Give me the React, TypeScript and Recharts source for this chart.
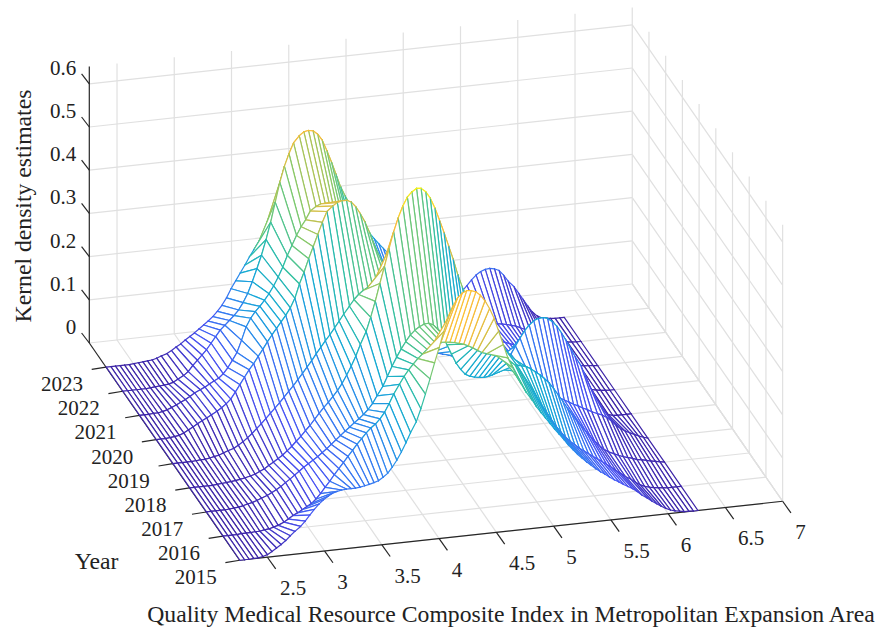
import { Line, LineChart, LabelList, XAxis, YAxis } from 'recharts'

const W = 877
const H = 627

// density grid, one row per year
const gridX = [
  2.26, 2.30, 2.34, 2.38, 2.42, 2.46, 2.50, 2.54, 2.58, 2.62,
  2.66, 2.70, 2.74, 2.79, 2.83, 2.87, 2.91, 2.95, 2.99, 3.03,
  3.07, 3.11, 3.15, 3.19, 3.23, 3.27, 3.31, 3.35, 3.39, 3.43,
  3.47, 3.51, 3.55, 3.59, 3.63, 3.67, 3.71, 3.75, 3.80, 3.84,
  3.88, 3.92, 3.96, 4.00, 4.04, 4.08, 4.12, 4.16, 4.20, 4.24,
  4.28, 4.32, 4.36, 4.40, 4.44, 4.48, 4.52, 4.56, 4.60, 4.64,
  4.68, 4.72, 4.76, 4.81, 4.85, 4.89, 4.93, 4.97, 5.01, 5.05,
  5.09, 5.13, 5.17, 5.21, 5.25, 5.29, 5.33, 5.37, 5.41, 5.45,
  5.49, 5.53, 5.57, 5.61, 5.65, 5.69, 5.73, 5.77, 5.82, 5.86,
  5.90, 5.94, 5.98, 6.02, 6.06, 6.10, 6.14, 6.18, 6.22, 6.26,
]

const d2015 = [
  0, 0, 0, 0.001, 0.001, 0.003, 0.006, 0.012, 0.019, 0.026,
  0.034, 0.044, 0.053, 0.063, 0.074, 0.087, 0.099, 0.11, 0.119, 0.126,
  0.132, 0.135, 0.137, 0.138, 0.138, 0.138, 0.139, 0.141, 0.143, 0.146,
  0.149, 0.156, 0.164, 0.177, 0.192, 0.21, 0.23, 0.252, 0.276, 0.305,
  0.338, 0.372, 0.408, 0.442, 0.478, 0.509, 0.534, 0.552, 0.562, 0.567,
  0.566, 0.562, 0.553, 0.539, 0.52, 0.496, 0.465, 0.433, 0.401, 0.378,
  0.356, 0.336, 0.317, 0.298, 0.281, 0.266, 0.252, 0.238, 0.224, 0.211,
  0.198, 0.184, 0.172, 0.16, 0.15, 0.14, 0.131, 0.122, 0.114, 0.107,
  0.099, 0.092, 0.086, 0.079, 0.073, 0.067, 0.059, 0.05, 0.041, 0.033,
  0.026, 0.019, 0.013, 0.008, 0.005, 0.003, 0.001, 0.001, 0, 0,
]
const d2016 = [
  0, 0, 0, 0, 0.001, 0.001, 0.001, 0.002, 0.002, 0.004,
  0.005, 0.008, 0.011, 0.017, 0.023, 0.03, 0.035, 0.041, 0.047, 0.053,
  0.062, 0.074, 0.087, 0.1, 0.114, 0.127, 0.14, 0.153, 0.166, 0.179,
  0.191, 0.203, 0.213, 0.221, 0.232, 0.246, 0.265, 0.286, 0.307, 0.324,
  0.338, 0.35, 0.362, 0.371, 0.381, 0.387, 0.392, 0.394, 0.393, 0.392,
  0.39, 0.387, 0.384, 0.379, 0.373, 0.366, 0.36, 0.356, 0.353, 0.35,
  0.347, 0.342, 0.334, 0.322, 0.306, 0.29, 0.274, 0.257, 0.237, 0.219,
  0.202, 0.185, 0.169, 0.155, 0.143, 0.132, 0.123, 0.114, 0.106, 0.099,
  0.091, 0.084, 0.077, 0.069, 0.061, 0.053, 0.045, 0.037, 0.029, 0.021,
  0.014, 0.009, 0.006, 0.004, 0.002, 0.001, 0, 0, 0, 0,
]
const d2017 = [
  0, 0, 0, 0, 0, 0.001, 0.002, 0.003, 0.005, 0.008,
  0.01, 0.014, 0.018, 0.023, 0.028, 0.034, 0.04, 0.048, 0.055, 0.063,
  0.071, 0.079, 0.086, 0.093, 0.1, 0.108, 0.116, 0.125, 0.134, 0.143,
  0.152, 0.16, 0.169, 0.177, 0.186, 0.196, 0.209, 0.226, 0.246, 0.268,
  0.29, 0.31, 0.328, 0.344, 0.358, 0.368, 0.375, 0.38, 0.381, 0.376,
  0.365, 0.348, 0.327, 0.304, 0.282, 0.266, 0.254, 0.248, 0.245, 0.243,
  0.242, 0.243, 0.246, 0.25, 0.255, 0.259, 0.261, 0.262, 0.259, 0.256,
  0.25, 0.242, 0.234, 0.224, 0.213, 0.199, 0.183, 0.167, 0.15, 0.134,
  0.119, 0.105, 0.092, 0.079, 0.066, 0.055, 0.045, 0.038, 0.032, 0.027,
  0.023, 0.02, 0.017, 0.013, 0.011, 0.009, 0.006, 0.004, 0.002, 0,
]
const d2018 = [
  0, 0, 0, 0, 0, 0, 0.001, 0.002, 0.003, 0.004,
  0.005, 0.007, 0.009, 0.012, 0.015, 0.02, 0.025, 0.032, 0.038, 0.045,
  0.052, 0.061, 0.07, 0.081, 0.091, 0.103, 0.114, 0.127, 0.14, 0.152,
  0.163, 0.175, 0.188, 0.203, 0.221, 0.241, 0.263, 0.289, 0.317, 0.349,
  0.385, 0.425, 0.463, 0.503, 0.541, 0.572, 0.598, 0.618, 0.629, 0.636,
  0.635, 0.626, 0.61, 0.586, 0.557, 0.527, 0.495, 0.463, 0.426, 0.396,
  0.372, 0.351, 0.333, 0.319, 0.305, 0.29, 0.274, 0.258, 0.241, 0.225,
  0.212, 0.199, 0.187, 0.175, 0.163, 0.154, 0.146, 0.138, 0.13, 0.122,
  0.115, 0.109, 0.103, 0.097, 0.092, 0.086, 0.081, 0.075, 0.069, 0.065,
  0.058, 0.049, 0.038, 0.029, 0.022, 0.017, 0.012, 0.007, 0.003, 0,
]
const d2019 = [
  0, 0, 0, 0, 0, 0.001, 0.002, 0.002, 0.004, 0.006,
  0.008, 0.012, 0.016, 0.02, 0.026, 0.033, 0.041, 0.05, 0.06, 0.07,
  0.081, 0.092, 0.103, 0.114, 0.126, 0.138, 0.15, 0.163, 0.176, 0.19,
  0.203, 0.218, 0.232, 0.246, 0.259, 0.273, 0.288, 0.303, 0.32, 0.334,
  0.345, 0.353, 0.359, 0.363, 0.366, 0.369, 0.37, 0.368, 0.364, 0.356,
  0.347, 0.337, 0.325, 0.311, 0.297, 0.282, 0.265, 0.249, 0.233, 0.218,
  0.204, 0.19, 0.176, 0.164, 0.153, 0.144, 0.136, 0.131, 0.128, 0.129,
  0.133, 0.141, 0.152, 0.168, 0.186, 0.203, 0.219, 0.231, 0.24, 0.244,
  0.245, 0.242, 0.234, 0.222, 0.206, 0.187, 0.167, 0.147, 0.125, 0.1,
  0.074, 0.05, 0.029, 0.011, 0.004, 0.001, 0, 0, 0, 0,
]
const d2020 = [
  0, 0, 0, 0.001, 0.002, 0.004, 0.008, 0.014, 0.02, 0.026,
  0.032, 0.037, 0.043, 0.05, 0.057, 0.065, 0.075, 0.09, 0.106, 0.122,
  0.138, 0.151, 0.167, 0.182, 0.198, 0.213, 0.227, 0.241, 0.255, 0.271,
  0.292, 0.324, 0.35, 0.38, 0.407, 0.434, 0.461, 0.485, 0.496, 0.503,
  0.506, 0.506, 0.501, 0.489, 0.472, 0.452, 0.427, 0.397, 0.363, 0.33,
  0.3, 0.271, 0.245, 0.221, 0.201, 0.184, 0.168, 0.154, 0.144, 0.138,
  0.133, 0.129, 0.126, 0.123, 0.121, 0.119, 0.117, 0.116, 0.114, 0.113,
  0.111, 0.109, 0.108, 0.105, 0.103, 0.1, 0.096, 0.093, 0.09, 0.086,
  0.082, 0.077, 0.072, 0.066, 0.061, 0.055, 0.047, 0.041, 0.034, 0.029,
  0.023, 0.018, 0.013, 0.009, 0.006, 0.004, 0.002, 0.001, 0, 0,
]
const d2021 = [
  0, 0, 0, 0.001, 0.001, 0.003, 0.006, 0.01, 0.015, 0.02,
  0.025, 0.031, 0.038, 0.044, 0.049, 0.055, 0.061, 0.066, 0.075, 0.088,
  0.104, 0.121, 0.148, 0.178, 0.197, 0.211, 0.222, 0.235, 0.249, 0.266,
  0.285, 0.307, 0.333, 0.355, 0.377, 0.396, 0.411, 0.43, 0.439, 0.444,
  0.444, 0.437, 0.425, 0.411, 0.394, 0.375, 0.355, 0.333, 0.309, 0.284,
  0.261, 0.24, 0.22, 0.202, 0.186, 0.171, 0.159, 0.148, 0.139, 0.133,
  0.127, 0.122, 0.118, 0.114, 0.111, 0.108, 0.106, 0.104, 0.101, 0.099,
  0.097, 0.095, 0.094, 0.092, 0.09, 0.088, 0.086, 0.083, 0.08, 0.077,
  0.073, 0.069, 0.064, 0.06, 0.055, 0.05, 0.045, 0.04, 0.035, 0.031,
  0.026, 0.021, 0.016, 0.012, 0.008, 0.005, 0.003, 0.002, 0.001, 0,
]
const d2022 = [
  0, 0, 0, 0, 0, 0, 0.001, 0.002, 0.003, 0.004,
  0.005, 0.008, 0.014, 0.021, 0.029, 0.042, 0.053, 0.064, 0.075, 0.089,
  0.103, 0.117, 0.127, 0.137, 0.147, 0.159, 0.175, 0.195, 0.221, 0.25,
  0.28, 0.315, 0.354, 0.399, 0.444, 0.48, 0.508, 0.532, 0.547, 0.555,
  0.557, 0.555, 0.546, 0.531, 0.506, 0.479, 0.449, 0.419, 0.396, 0.377,
  0.359, 0.34, 0.322, 0.303, 0.281, 0.258, 0.232, 0.207, 0.183, 0.165,
  0.148, 0.133, 0.121, 0.111, 0.103, 0.096, 0.09, 0.086, 0.081, 0.078,
  0.075, 0.073, 0.072, 0.07, 0.069, 0.068, 0.068, 0.067, 0.066, 0.065,
  0.064, 0.062, 0.06, 0.058, 0.055, 0.052, 0.047, 0.042, 0.036, 0.031,
  0.025, 0.02, 0.015, 0.011, 0.007, 0.004, 0.002, 0.001, 0, 0,
]
const d2023 = [
  0, 0, 0, 0, 0, 0, 0.001, 0.002, 0.003, 0.004,
  0.005, 0.008, 0.012, 0.016, 0.022, 0.029, 0.035, 0.043, 0.05, 0.057,
  0.065, 0.073, 0.081, 0.09, 0.101, 0.114, 0.13, 0.15, 0.167, 0.184,
  0.201, 0.219, 0.235, 0.251, 0.268, 0.286, 0.305, 0.32, 0.333, 0.344,
  0.352, 0.358, 0.362, 0.363, 0.363, 0.36, 0.355, 0.35, 0.344, 0.336,
  0.327, 0.317, 0.307, 0.295, 0.282, 0.27, 0.256, 0.244, 0.23, 0.217,
  0.205, 0.193, 0.183, 0.171, 0.16, 0.149, 0.138, 0.129, 0.119, 0.112,
  0.105, 0.099, 0.094, 0.089, 0.085, 0.081, 0.08, 0.087, 0.098, 0.11,
  0.12, 0.127, 0.131, 0.132, 0.13, 0.125, 0.113, 0.098, 0.084, 0.068,
  0.052, 0.036, 0.021, 0.011, 0.005, 0.003, 0.001, 0, 0, 0,
]

const years = [2023, 2022, 2021, 2020, 2019, 2018, 2017, 2016, 2015]
const densities = [d2023, d2022, d2021, d2020, d2019, d2018, d2017, d2016, d2015]

const xTicks = [2.5, 3, 3.5, 4, 4.5, 5, 5.5, 6, 6.5, 7]
const zTicks = [0, 0.1, 0.2, 0.3, 0.4, 0.5, 0.6]

const X_MIN = 2.258
const X_MAX = 7
const YEAR_BACK = 2024
const YEAR_FRONT = 2015
const Z_TOP = 0.64

// fixed MATLAB style view, orthographic
const project = (x: number, year: number, z: number) => ({
  px: 89.3 + (x - X_MIN) * 114.5 + (YEAR_BACK - year) * 16.71,
  py: 343 - (x - X_MIN) * 12.44 + (YEAR_BACK - year) * 24.14 - z * 432,
})

const parula = ['#3e26a8', '#4752f4', '#2f82f0', '#14a8d6', '#2fbfa4', '#80c96c', '#d0bf48', '#fbbd3a', '#f9f518']

const hex = (c: string, i: number) => parseInt(c.slice(1 + i * 2, 3 + i * 2), 16)

const zColor = (z: number) => {
  const t = Math.min(1, Math.max(0, z / 0.64)) * (parula.length - 1)
  const i = Math.min(parula.length - 2, Math.floor(t))
  const f = t - i
  const ch = [0, 1, 2].map((k) => Math.round(hex(parula[i], k) * (1 - f) + hex(parula[i + 1], k) * f))
  return `rgb(${ch.join(',')})`
}

type Pt = { px: number; py: number; z?: number; text?: string; hatchZ?: number }

// painter order: far strip first, high x first inside a strip
const meshCorners: Pt[] = []
for (let r = 0; r < years.length - 1; r++) {
  // rungs take one flat colour, from the nearer curve (2016-2017 looks taken from the far one)
  const hatchRow = years[r] === 2017 ? r : r + 1
  for (let i = gridX.length - 2; i >= 0; i--) {
    const corners: [number, number][] = [
      [r, i],
      [r, i + 1],
      [r + 1, i + 1],
      [r + 1, i],
    ]
    corners.forEach(([a, b]) => {
      const z = densities[a][b]
      meshCorners.push({ ...project(gridX[b], years[a], z), z, hatchZ: densities[hatchRow][b] })
    })
  }
}

const seen: { x: number; y: number; z: number; hz: number }[] = []

type Corner = (typeof seen)[number]

const seg = (a: Corner, b: Corner, color: string) => (
  <line x1={a.x} y1={a.y} x2={b.x} y2={b.y} stroke={color} strokeWidth={1.2} strokeLinecap="round" />
)

// every fourth corner closes a face, so draw the white face and its edges there
const renderFace = (props: any) => {
  const { cx, cy, index, payload } = props
  seen[index] = { x: cx, y: cy, z: payload.z, hz: payload.hatchZ }
  if (index % 4 !== 3) return <g key={index} />
  const [a, b, c, d] = seen.slice(index - 3, index + 1)
  return (
    <g key={index}>
      <polygon points={`${a.x},${a.y} ${b.x},${b.y} ${c.x},${c.y} ${d.x},${d.y}`} fill="#fff" stroke="none" />
      {seg(a, d, zColor(a.hz))}
      {seg(b, c, zColor(b.hz))}
      {seg(a, b, zColor((a.z + b.z) / 2))}
      {seg(d, c, zColor((d.z + c.z) / 2))}
    </g>
  )
}

const gridSegments: Pt[][] = []
xTicks.forEach((x) => {
  gridSegments.push([project(x, YEAR_BACK, 0), project(x, YEAR_FRONT, 0)])
  gridSegments.push([project(x, YEAR_BACK, 0), project(x, YEAR_BACK, Z_TOP)])
})
years.forEach((y) => {
  gridSegments.push([project(X_MIN, y, 0), project(X_MAX, y, 0)])
  gridSegments.push([project(X_MAX, y, 0), project(X_MAX, y, Z_TOP)])
})
zTicks.forEach((z) => {
  gridSegments.push([project(X_MIN, YEAR_BACK, z), project(X_MAX, YEAR_BACK, z)])
  gridSegments.push([project(X_MAX, YEAR_BACK, z), project(X_MAX, YEAR_FRONT, z)])
})
gridSegments.push([project(X_MAX, YEAR_BACK, 0), project(X_MAX, YEAR_FRONT, 0)])

const move = (p: Pt, dx: number, dy: number): Pt => ({ px: p.px + dx, py: p.py + dy })

const axisSegments: Pt[][] = [
  [project(X_MIN, YEAR_BACK, 0), project(X_MIN, YEAR_BACK, Z_TOP)],
  [project(X_MIN, YEAR_BACK, 0), project(X_MIN, YEAR_FRONT, 0)],
  [project(X_MIN, YEAR_FRONT, 0), project(X_MAX, YEAR_FRONT, 0)],
]
zTicks.forEach((z) => {
  const p = project(X_MIN, YEAR_BACK, z)
  axisSegments.push([p, move(p, -7.7, -10)])
})
years.forEach((y) => {
  const p = project(X_MIN, y, 0)
  axisSegments.push([p, move(p, -14.3, 2.3)])
})
xTicks.forEach((x) => {
  const p = project(x, YEAR_FRONT, 0)
  axisSegments.push([p, move(p, 8.3, 11.7)])
})

const zLabels = zTicks.map((z) => ({ ...move(project(X_MIN, YEAR_BACK, z), -13, -16), text: String(z) }))
const yearLabels = years.map((y) => ({ ...move(project(X_MIN, y, 0), -44, 17), text: String(y) }))
const xLabels = xTicks.map((x) => ({ ...move(project(x, YEAR_FRONT, 0), 12.5, 31), text: String(x) }))

const serif = '"Liberation Serif", "Times New Roman", serif'

const textContent = (size: number, anchor: string, rotate = 0) => (props: any) => {
  const { x, y, value, index } = props
  return (
    <text
      key={index}
      x={x}
      y={y}
      fontFamily={serif}
      fontSize={size}
      fill="#222"
      textAnchor={anchor}
      dominantBaseline="central"
      transform={rotate ? `rotate(${rotate} ${x} ${y})` : undefined}
    >
      {value}
    </text>
  )
}

const textLine = (key: string, data: Pt[], size: number, anchor: string, rotate = 0) => (
  <Line key={key} data={data} dataKey="py" stroke="none" dot={false} legendType="none" isAnimationActive={false}>
    <LabelList dataKey="text" content={textContent(size, anchor, rotate)} />
  </Line>
)

export default function App() {
  return (
    <div style={{ position: 'absolute', left: 0, top: 0, width: W, height: H, background: '#fff' }}>
      <LineChart width={W} height={H} margin={{ top: 0, right: 0, bottom: 0, left: 0 }}>
        <XAxis hide type="number" dataKey="px" domain={[0, W]} allowDataOverflow />
        <YAxis hide type="number" dataKey="py" domain={[0, H]} reversed allowDataOverflow />
        {gridSegments.map((s, i) => (
          <Line
            key={`grid-${i}`}
            data={s}
            dataKey="py"
            stroke="#e0e0e0"
            strokeWidth={1.2}
            dot={false}
            legendType="none"
            isAnimationActive={false}
          />
        ))}
        {axisSegments.map((s, i) => (
          <Line
            key={`axis-${i}`}
            data={s}
            dataKey="py"
            stroke="#262626"
            strokeWidth={1.2}
            dot={false}
            legendType="none"
            isAnimationActive={false}
          />
        ))}
        <Line
          data={meshCorners}
          dataKey="py"
          stroke="none"
          dot={renderFace}
          legendType="none"
          isAnimationActive={false}
        />
        {textLine('z-labels', zLabels, 21, 'end')}
        {textLine('year-labels', yearLabels, 21, 'middle')}
        {textLine('x-labels', xLabels, 21, 'start')}
        {textLine('year-title', [{ px: 96.5, py: 561, text: 'Year' }], 23.7, 'middle')}
        {textLine(
          'x-title',
          [{ px: 511, py: 613.5, text: 'Quality Medical Resource Composite Index in Metropolitan Expansion Area' }],
          23.7,
          'middle',
        )}
        {textLine('z-title', [{ px: 23, py: 206, text: 'Kernel density estimates' }], 23.7, 'middle', -90)}
      </LineChart>
    </div>
  )
}
